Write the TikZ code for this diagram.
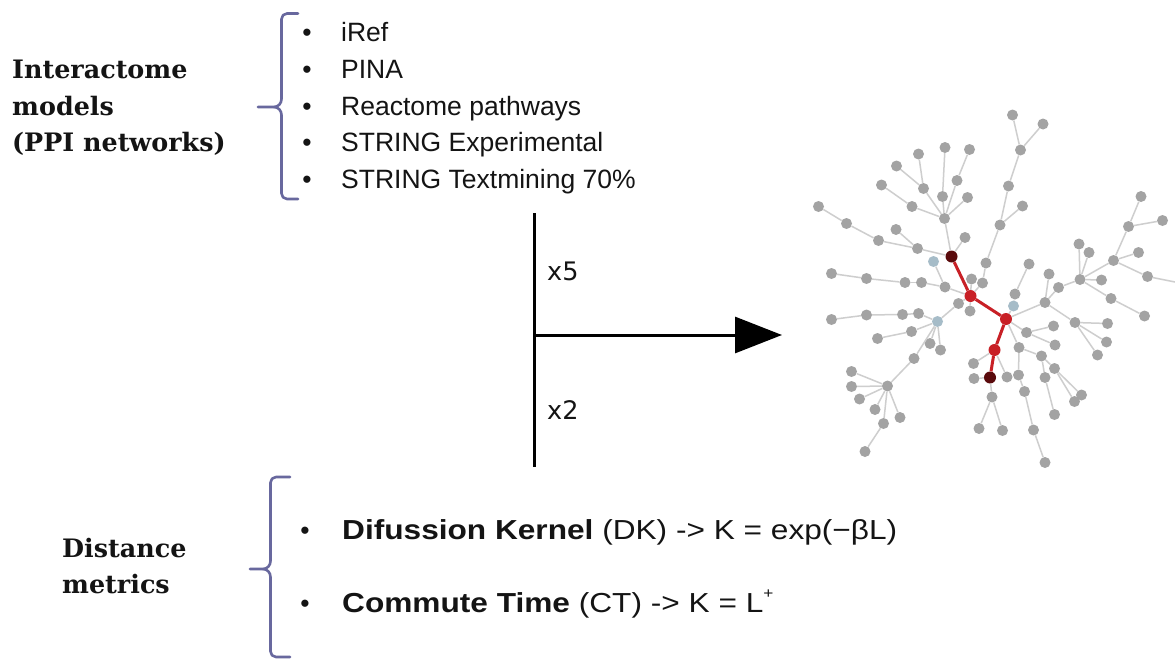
\documentclass[tikz,border=0pt]{standalone}
\usepackage{fontspec}
\usetikzlibrary{arrows.meta}
\newfontfamily\labelserif{DejaVu Serif}
\newfontfamily\listsans{Liberation Sans}
\newfontfamily\widesans[FakeStretch=1.15]{Liberation Sans}
\newfontfamily\countsans{DejaVu Sans}
\definecolor{bracecol}{RGB}{104,104,158}
\definecolor{nodegray}{RGB}{163,163,163}
\definecolor{nodeblue}{RGB}{166,188,200}
\definecolor{edgegray}{RGB}{206,206,206}
\definecolor{pathred}{RGB}{200,32,38}
\definecolor{darkred}{RGB}{90,10,12}
\definecolor{inkblack}{RGB}{20,20,20}
\tikzset{
  brace/.style={draw=bracecol, line width=2.6pt, line cap=round, line join=round},
  serifbold/.style={font=\labelserif\bfseries\fontsize{25.4}{30}\selectfont, text=inkblack, inner sep=0pt, anchor=base west},
  listitem/.style={font=\listsans\fontsize{26.5}{30}\selectfont, text=inkblack, inner sep=0pt, anchor=base west},
  metricitem/.style={font=\widesans\fontsize{27.5}{30}\selectfont, text=inkblack, inner sep=0pt, anchor=base west},
  dotmark/.style={font=\listsans\fontsize{26.5}{30}\selectfont, text=inkblack, inner sep=0pt, anchor=base},
  gnode/.style={circle, fill=nodegray, inner sep=0pt, minimum size=11pt},
  bnode/.style={gnode, fill=nodeblue},
  rnode/.style={circle, fill=pathred, inner sep=0pt, minimum size=12pt},
  rdark/.style={rnode, fill=darkred},
  gedge/.style={draw=edgegray, line width=1.5pt},
  redge/.style={draw=pathred, line width=3pt},
  axisline/.style={draw=black, line width=3pt},
  flow/.style={axisline, -{Triangle[length=47pt,width=36pt]}},
  count/.style={font=\countsans\fontsize{25.5}{30}\selectfont, text=inkblack, inner sep=0pt, anchor=base west}
}
\begin{document}
\begin{tikzpicture}[x=1pt,y=-1pt]
\useasboundingbox[fill=white] (0,0) rectangle (1175,661);

% ---------- interactome models ----------
\node[serifbold] (im1) at (12,78) {Interactome};
\node[serifbold] (im2) at (12,115) {models};
\node[serifbold] (im3) at (12,151) {(PPI networks)};

\draw[brace] (298,13.5) -- (287,13.5) to[out=180,in=90] (281.5,19) -- (281.5,99)
  to[out=-90,in=0] (274,107) -- (258,107);
\draw[brace] (274,107) to[out=0,in=90] (281.5,115) -- (281.5,193.5)
  to[out=-90,in=180] (287,199) -- (298,199);

\foreach \n/\y/\t in {i1/41.7/iRef, i2/78/PINA, i3/115/Reactome pathways,
    i4/151.7/STRING Experimental, i5/188.3/STRING Textmining 70\%} {
  \node[dotmark] (\n b) at (307,\y) {•};
  \node[listitem] (\n) at (341,\y) {\t};
}

% ---------- repetition axis and arrow ----------
\coordinate (vtop) at (534,213);
\coordinate (vbot) at (534,467);
\coordinate (vmid) at (534,335);
\coordinate (tip) at (782,335);
\draw[axisline] (vtop) -- (vbot);
\draw[flow] (vmid) -- (tip);
\node[count] (x5) at (547,280) {x5};
\node[count] (x2) at (547,419) {x2};

% ---------- distance metrics ----------
\node[serifbold] (dm1) at (62,557) {Distance};
\node[serifbold] (dm2) at (62,593) {metrics};

\draw[brace] (290,477) -- (276,477) to[out=180,in=90] (270.5,482.5) -- (270.5,561)
  to[out=-90,in=0] (263,569) -- (250,569);
\draw[brace] (263,569) to[out=0,in=90] (270.5,577) -- (270.5,651.5)
  to[out=-90,in=180] (276,657) -- (290,657);

\node[dotmark] (dkb) at (305,539) {•};
\node[metricitem] (dk) at (342,539) {{\bfseries Difussion Kernel} (DK) -> K = exp(−βL)};
\node[dotmark] (ctb) at (305,612) {•};
\node[metricitem] (ct) at (342,612) {{\bfseries Commute Time} (CT) -> K = L\raisebox{0.5em}{\fontsize{15}{15}\selectfont +}};

% ---------- network ----------
\foreach \n/\x/\y in {
  a1/1012.5/115, a2/1043/124, a3/1020.5/150, a4/1008.5/186, a5/1022.5/206,
  a6/1000/225, a7/986/263, x1/982.5/283, x2/971.5/279,
  b1/918.5/154, b2/945/147.5, b3/969.5/149.5, b4/896.5/166, b5/957/180.5,
  b6/881.5/185, b7/923.5/188.5, b8/942.5/196.5, b9/967.5/197.5, b10/912/206.5,
  b11/944.5/218.5,
  c1/818.5/206.5, c2/846.5/223.5, c3/896/229.5, c4/878.5/240.5, c5/917.5/248.5,
  d1/965/237.5,
  e1/831.5/273.5, e2/866.5/278.5, e3/905/282.5, e4/921.5/282.5, e5/945/287,
  s1/958.5/303.5, s2/970/311,
  f1/831.5/319.5, f2/866.5/315, f3/902.5/314.5, f4/918.5/313.5,
  g1/877.5/338.5, g2/911.5/331.5, g3/930/343.5, g4/940.5/350,
  h1/914/358.5, h0/887.5/386, hl1/851.5/371.5, hl2/851.5/386.5, hl3/859.5/399,
  hl4/875/409.5, hl5/900/417.5, h2/883.5/423.5, h3/865/451.5,
  t1/973.5/363.5, t2/974/378.5, t3/1007/377, y1/992/397, y2/979/428.5, y3/1002.5/430.5,
  k0/1015/294, k1/1029/264,
  m1/1045/302.5, m2/1049/274, m3/1058.5/287.5, mh/1080/279.5, m4/1079/244,
  m5/1089/252.5, m6/1101.5/280,
  nh/1113.5/260.5, n1/1128.5/226.5, n2/1141/196.5, n3/1162.5/220.5,
  n4/1138.5/252.5, n5/1147.5/276.5,
  o1/1111/298.5, o2/1144.5/316,
  p0/1075/322.5, p1/1107.5/323.5, p2/1106.5/342, p3/1097.5/355,
  q0/1026.5/332.5, q1/1053.5/326, q2/1055/345,
  u0/1019/347.5, u1/1041.5/356, u2/1054.5/368.5, u3/1081.5/395, u4/1074.5/401.5,
  v1/1045/377.5, v2/1054.5/414.5,
  w1/1018.5/375, w2/1024.5/391.5, w3/1033.5/430, w4/1045/462.5}
  \node[gnode] (\n) at (\x,\y) {};

\foreach \n/\x/\y in {lba/933.5/261.5, lb/937.5/321.5, lb2/1013.5/306}
  \node[bnode] (\n) at (\x,\y) {};

\node[rdark] (r1) at (951.5,256.5) {};
\node[rnode] (r2) at (970.5,296) {};
\node[rnode] (r3) at (1006,319) {};
\node[rnode] (r4) at (994.5,350) {};
\node[rdark] (r5) at (990,377.5) {};

\coordinate (nend) at (1180,283);

\foreach \p/\q in {
  a1/a3, a2/a3, a3/a4, a4/a6, a5/a6, a6/a7, a7/x1, x1/r2, x2/r2,
  b1/b7, b4/b7, b7/b11, b2/b8, b8/b11, b3/b5, b5/b11, b6/b10, b10/b11, b9/b11, b11/r1,
  c1/c2, c2/c4, c4/c5, c3/c5, c5/r1, d1/r1, lba/e5,
  e1/e2, e2/e3, e3/e4, e4/e5, e5/r2,
  r2/s1, s1/lb, r2/s2,
  f1/f2, f2/f3, f3/f4, f4/lb, g1/g2, g2/lb, g3/lb, g4/lb, h1/lb, h0/h1,
  hl1/h0, hl2/h0, hl3/h0, hl4/h0, hl5/h0, h2/h0, h3/h2,
  t1/r4, t2/r5, t3/r4, y1/r5, y2/y1, y3/y1,
  lb2/r3, k0/lb2, k1/k0,
  m1/r3, m2/m1, m3/m1, mh/m3, m4/mh, m5/mh, m6/mh, nh/mh,
  n1/nh, n2/n1, n3/n1, n4/nh, n5/nh, n5/nend,
  o1/mh, o2/o1, p0/m1, p1/p0, p2/p0, p3/p0,
  q0/r3, q1/q0, q2/q0, u0/r3, u1/u0, u2/u1, u3/u2, u4/u2, v1/u1, v2/v1,
  w1/u0, w2/w1, w3/w2, w4/w3}
  \draw[gedge] (\p) -- (\q);

\draw[redge] (r1) -- (r2) -- (r3) -- (r4) -- (r5);
\end{tikzpicture}
\end{document}
